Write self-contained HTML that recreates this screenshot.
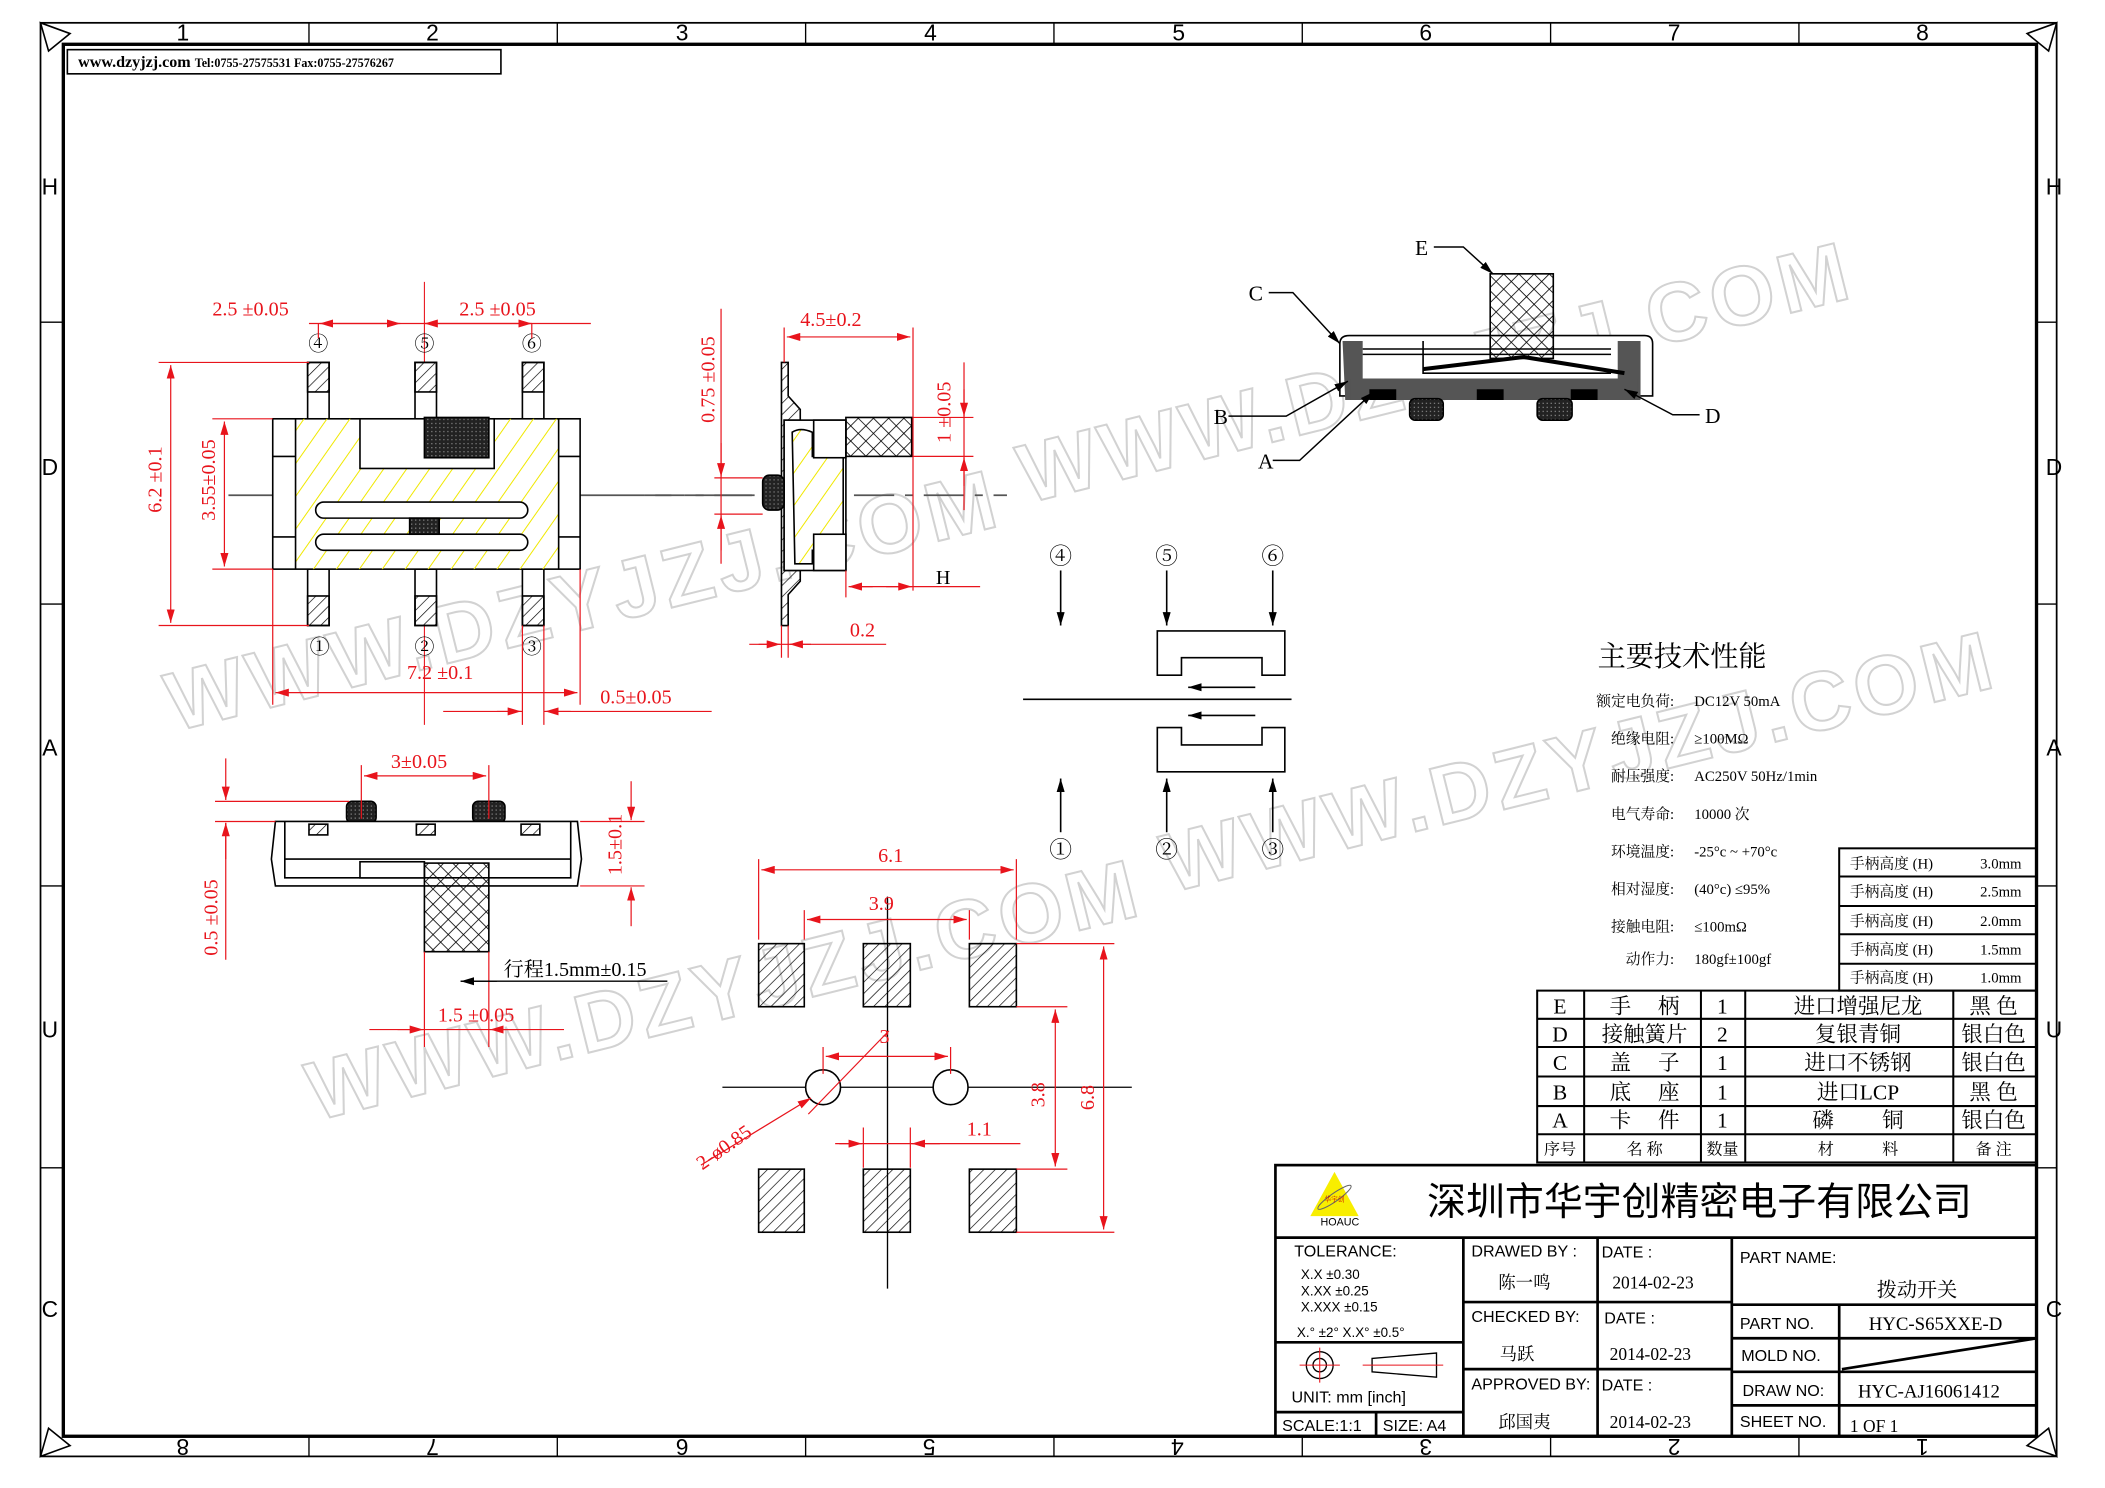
<!DOCTYPE html>
<html><head><meta charset="utf-8"><style>
html,body{margin:0;padding:0;background:#fff}
svg{display:block}
text{font-family:"Liberation Serif","Noto Serif CJK SC","Noto Sans CJK SC",serif}
.s{font-family:"Liberation Sans","Noto Sans CJK SC",sans-serif}
.r{fill:#e8141c}
</style></head><body>
<svg width="2105" height="1488" viewBox="0 0 1560 1103" xmlns="http://www.w3.org/2000/svg">
<defs>
<pattern id="yh" width="14" height="14" patternUnits="userSpaceOnUse" patternTransform="rotate(35)"><line x1="0" y1="0" x2="0" y2="14" stroke="#f0e800" stroke-width="1.5"/></pattern>
<pattern id="bh" width="6" height="6" patternUnits="userSpaceOnUse" patternTransform="rotate(45)"><line x1="0" y1="0" x2="0" y2="6" stroke="#000" stroke-width="1"/></pattern>
<pattern id="xh" width="8" height="8" patternUnits="userSpaceOnUse" patternTransform="rotate(45)"><line x1="0" y1="0" x2="0" y2="8" stroke="#000" stroke-width="1.2"/><line x1="0" y1="0" x2="8" y2="0" stroke="#000" stroke-width="1.2"/></pattern>
<pattern id="dk" width="3" height="3" patternUnits="userSpaceOnUse"><rect width="3" height="3" fill="#222"/><rect width="1" height="1" fill="#777"/></pattern>
<marker id="ar" viewBox="0 0 10 6" refX="10" refY="3" markerWidth="10" markerHeight="6" orient="auto-start-reverse" markerUnits="userSpaceOnUse"><path d="M0,0L10,3L0,6z" fill="#e8141c"/></marker>
<marker id="ak" viewBox="0 0 10 6" refX="10" refY="3" markerWidth="10" markerHeight="6" orient="auto-start-reverse" markerUnits="userSpaceOnUse"><path d="M0,0L10,3L0,6z" fill="#000"/></marker>
</defs>
<rect width="1560" height="1103" fill="#fff"/>
<g transform="scale(0.995)">
<!-- watermarks -->
<g fill="none" stroke="#d2d2d2" stroke-width="1.5" font-size="62" font-family="Liberation Sans,sans-serif" font-weight="bold" letter-spacing="4">
<text x="130" y="545" transform="rotate(-14 130 545)" class="s">WWW.DZYJZJ.COM</text>
<text x="235" y="835" transform="rotate(-14 235 835)" class="s">WWW.DZYJZJ.COM</text>
<text x="765" y="375" transform="rotate(-14 765 375)" class="s">WWW.DZYJZJ.COM</text>
<text x="872" y="665" transform="rotate(-14 872 665)" class="s">WWW.DZYJZJ.COM</text>
</g>
<!-- frame -->
<g stroke="#000" fill="none">
<rect x="30" y="17" width="1502" height="1068" stroke-width="1.3"/>
<rect x="47" y="33" width="1470" height="1037" stroke-width="2.5"/>
<path d="M230,17V33M415,17V33M600,17V33M785,17V33M970,17V33M1155,17V33M1340,17V33M230,1070V1085M415,1070V1085M600,1070V1085M785,1070V1085M970,1070V1085M1155,1070V1085M1340,1070V1085M30,240H47M30,450H47M30,660H47M30,870H47M1517,240H1532M1517,450H1532M1517,660H1532M1517,870H1532"/>
<path d="M30,17L52,25L36,38zM1532,17L1510,25L1526,38zM30,1085L52,1077L36,1064zM1532,1085L1510,1077L1526,1064z" stroke-width="1.2"/>
</g>
<g font-size="17" text-anchor="middle" class="s">
<text x="136" y="30" class="s">1</text><text x="322" y="30" class="s">2</text><text x="508" y="30" class="s">3</text><text x="693" y="30" class="s">4</text><text x="878" y="30" class="s">5</text><text x="1062" y="30" class="s">6</text><text x="1247" y="30" class="s">7</text><text x="1432" y="30" class="s">8</text>
<g transform="rotate(180 780 1078)"><text x="128" y="1084" class="s">1</text><text x="313" y="1084" class="s">2</text><text x="498" y="1084" class="s">3</text><text x="683" y="1084" class="s">4</text><text x="868" y="1084" class="s">5</text><text x="1052" y="1084" class="s">6</text><text x="1238" y="1084" class="s">7</text><text x="1424" y="1084" class="s">8</text></g>
<text x="37" y="145" class="s">H</text><text x="37" y="354" class="s">D</text><text x="37" y="563" class="s">A</text><text x="37" y="773" class="s">U</text><text x="37" y="981" class="s">C</text>
<text x="1530" y="145" class="s">H</text><text x="1530" y="354" class="s">D</text><text x="1530" y="563" class="s">A</text><text x="1530" y="773" class="s">U</text><text x="1530" y="981" class="s">C</text>
</g>
<rect x="50" y="37" width="323" height="18" fill="none" stroke="#000" stroke-width="1.2"/>
<text x="58" y="50" font-size="12" font-weight="bold">www.dzyjzj.com <tspan font-size="9">Tel:0755-27575531  Fax:0755-27576267</tspan></text>

<!-- TOP VIEW -->
<g stroke="#000" stroke-width="1.2">
<path d="M170,369H480M488,369H500M510,369H560" stroke="#555" stroke-width="1.3"/>
<line x1="316" y1="210" x2="316" y2="540" stroke="#e8141c" stroke-width="0.8"/>
<g fill="#fff"><rect x="229" y="270" width="16" height="42"/><rect x="309" y="270" width="16" height="42"/><rect x="389" y="270" width="16" height="42"/><rect x="229" y="424" width="16" height="42"/><rect x="309" y="424" width="16" height="42"/><rect x="389" y="424" width="16" height="42"/></g>
<g fill="url(#bh)"><rect x="229" y="270" width="16" height="22"/><rect x="309" y="270" width="16" height="22"/><rect x="389" y="270" width="16" height="22"/><rect x="229" y="444" width="16" height="22"/><rect x="309" y="444" width="16" height="22"/><rect x="389" y="444" width="16" height="22"/></g>
<rect x="203" y="312" width="229" height="112" fill="#fff"/>
<rect x="220" y="312" width="196" height="112" fill="url(#yh)" stroke="none"/>
<rect x="268" y="312" width="100" height="37" fill="#fff"/>
<rect x="316" y="311" width="48" height="30" fill="url(#dk)"/>
<rect x="235" y="374" width="158" height="12" rx="6" fill="#fff"/>
<rect x="235" y="398" width="158" height="12" rx="6" fill="#fff"/>
<rect x="305" y="386" width="22" height="12" fill="url(#dk)"/>
<path d="M220,312V424M416,312V424M203,340H220M203,400H220M416,340H432M416,400H432" fill="none"/>
</g>
<g font-size="15" text-anchor="middle" fill="#000"><text x="237" y="261">④</text><text x="316" y="261">⑤</text><text x="396" y="261">⑥</text><text x="238" y="487">①</text><text x="316" y="487">②</text><text x="396" y="487">③</text></g>
<g stroke="#e8141c" stroke-width="0.9" fill="none">
<path d="M230,241H440M237,241V252M396,241V252"/>
<line x1="298" y1="241" x2="238" y2="241" marker-end="url(#ar)" marker-start="url(#ar)"/>
<line x1="316" y1="241" x2="396" y2="241" marker-end="url(#ar)" marker-start="url(#ar)"/>
<path d="M118,270H230M118,466H230M158,312H203M158,424H203"/>
<line x1="127" y1="272" x2="127" y2="464" marker-end="url(#ar)" marker-start="url(#ar)"/>
<line x1="167" y1="314" x2="167" y2="422" marker-end="url(#ar)" marker-start="url(#ar)"/>
<path d="M203,424V525M432,424V525M389,466V540M405,466V540"/>
<line x1="205" y1="516" x2="430" y2="516" marker-end="url(#ar)" marker-start="url(#ar)"/>
<path d="M330,530H389M405,530H530"/>
<line x1="370" y1="530" x2="388" y2="530" marker-end="url(#ar)"/><line x1="425" y1="530" x2="406" y2="530" marker-end="url(#ar)"/>
</g>
<g class="r" font-size="15"><text x="158" y="235">2.5 ±0.05</text><text x="342" y="235">2.5 ±0.05</text><text x="303" y="506">7.2 ±0.1</text><text x="447" y="524">0.5±0.05</text>
<text transform="translate(120,382) rotate(-90)">6.2 ±0.1</text><text transform="translate(160,388) rotate(-90)">3.55±0.05</text></g>

<!-- SIDE VIEW -->
<g stroke="#000" stroke-width="1.2">
<path d="M480,369H750" stroke="#555" stroke-width="1.3" stroke-dasharray="30,8,6,8"/>
<path d="M582,270H587V295L596,305V313H584V425H596V433L587,443V466H582Z" fill="url(#bh)"/>
<rect x="584" y="313" width="46" height="112" fill="#fff"/>
<path d="M590,322Q596,318 605,322V340H628V410H605V420H592Z" fill="url(#yh)"/>
<rect x="606" y="313" width="24" height="28" fill="#fff"/>
<rect x="606" y="398" width="24" height="27" fill="#fff"/>
<rect x="630" y="311" width="49" height="29" fill="url(#xh)"/>
<rect x="568" y="354" width="16" height="26" rx="5" fill="url(#dk)"/>
</g>
<g stroke="#e8141c" stroke-width="0.9" fill="none">
<path d="M584,244V270M680,244V440"/>
<line x1="586" y1="251" x2="678" y2="251" marker-end="url(#ar)" marker-start="url(#ar)"/>
<path d="M537,230V420M532,356H568M532,383H568"/>
<line x1="537" y1="330" x2="537" y2="355" marker-end="url(#ar)"/><line x1="537" y1="410" x2="537" y2="384" marker-end="url(#ar)"/>
<path d="M680,311H725M680,340H725M718,270V380"/>
<line x1="718" y1="290" x2="718" y2="310" marker-end="url(#ar)"/><line x1="718" y1="362" x2="718" y2="341" marker-end="url(#ar)"/>
<path d="M630,425V445M633,437H730"/>
<line x1="650" y1="437" x2="632" y2="437" marker-end="url(#ar)"/><line x1="660" y1="437" x2="679" y2="437" marker-end="url(#ar)"/>
<path d="M582,466V490M587,466V490M558,480H660"/>
<line x1="565" y1="480" x2="581" y2="480" marker-end="url(#ar)"/><line x1="604" y1="480" x2="588" y2="480" marker-end="url(#ar)"/>
</g>
<g class="r" font-size="15"><text x="596" y="243">4.5±0.2</text><text x="633" y="474">0.2</text>
<text transform="translate(532,315) rotate(-90)">0.75 ±0.05</text><text transform="translate(708,330) rotate(-90)">1 ±0.05</text></g>
<text x="697" y="435" font-size="15">H</text>

<!-- BOTTOM-LEFT VIEW -->
<g stroke="#000" stroke-width="1.2">
<rect x="258" y="597" width="22" height="16" rx="4" fill="url(#dk)"/><rect x="352" y="597" width="24" height="16" rx="4" fill="url(#dk)"/>
<path d="M205,612H430L433,640L430,660H205L202,640Z" fill="#fff"/>
<path d="M212,612V654H425V612M212,640H425" fill="none"/>
<g fill="url(#bh)"><rect x="230" y="614" width="14" height="8"/><rect x="310" y="614" width="14" height="8"/><rect x="388" y="614" width="14" height="8"/></g>
<rect x="268" y="642" width="48" height="12" fill="#fff"/>
<rect x="316" y="643" width="48" height="66" fill="url(#xh)"/>
</g>
<g stroke="#e8141c" stroke-width="0.9" fill="none">
<path d="M269,570V610M364,570V610"/>
<line x1="271" y1="578" x2="362" y2="578" marker-end="url(#ar)" marker-start="url(#ar)"/>
<path d="M160,597H260M160,612H205M432,612H480M432,660H480"/>
<line x1="168" y1="565" x2="168" y2="596" marker-end="url(#ar)"/><line x1="168" y1="640" x2="168" y2="613" marker-end="url(#ar)"/><line x1="168" y1="613" x2="168" y2="715"/>
<line x1="470" y1="582" x2="470" y2="611" marker-end="url(#ar)"/><line x1="470" y1="690" x2="470" y2="661" marker-end="url(#ar)"/>
<path d="M316,709V780M364,709V780M275,767H420"/>
<line x1="296" y1="767" x2="315" y2="767" marker-end="url(#ar)"/><line x1="384" y1="767" x2="365" y2="767" marker-end="url(#ar)"/>
</g>
<line x1="343" y1="731" x2="497" y2="731" stroke="#000"/><line x1="370" y1="731" x2="343" y2="731" stroke="#000" marker-end="url(#ak)"/>
<text x="375" y="727" font-size="15">行程1.5mm±0.15</text>
<g class="r" font-size="15"><text x="291" y="572">3±0.05</text><text x="326" y="761">1.5 ±0.05</text>
<text transform="translate(162,712) rotate(-90)">0.5 ±0.05</text><text transform="translate(463,652) rotate(-90)">1.5±0.1</text></g>

<!-- FOOTPRINT -->
<g stroke="#000" stroke-width="1.2">
<path d="M538,810H600M626,810H695M721,810H843M661,668V960" stroke-width="1"/>
<g fill="url(#bh)"><rect x="565" y="703" width="34" height="47"/><rect x="643" y="703" width="35" height="47"/><rect x="722" y="703" width="35" height="47"/><rect x="565" y="871" width="34" height="47"/><rect x="643" y="871" width="35" height="47"/><rect x="722" y="871" width="35" height="47"/></g>
<circle cx="613" cy="810" r="13" fill="#fff"/><circle cx="708" cy="810" r="13" fill="#fff"/>
</g>
<g stroke="#e8141c" stroke-width="0.9" fill="none">
<path d="M565,640V700M757,640V700M599,678V700M722,678V700"/>
<line x1="567" y1="648" x2="755" y2="648" marker-end="url(#ar)" marker-start="url(#ar)"/>
<line x1="601" y1="685" x2="720" y2="685" marker-end="url(#ar)" marker-start="url(#ar)"/>
<path d="M757,703H830M757,918H830M757,750H795M757,871H795"/>
<line x1="822" y1="705" x2="822" y2="916" marker-end="url(#ar)" marker-start="url(#ar)"/>
<line x1="786" y1="752" x2="786" y2="869" marker-end="url(#ar)" marker-start="url(#ar)"/>
<path d="M613,780V800M708,780V800"/>
<line x1="615" y1="787" x2="706" y2="787" marker-end="url(#ar)" marker-start="url(#ar)"/>
<path d="M643,840V870M678,840V870M622,852H760"/>
<line x1="625" y1="852" x2="642" y2="852" marker-end="url(#ar)"/><line x1="700" y1="852" x2="679" y2="852" marker-end="url(#ar)"/>
<line x1="522" y1="868" x2="604" y2="818" marker-end="url(#ar)"/>
<line x1="602" y1="830" x2="662" y2="768" />
</g>
<g class="r" font-size="15"><text x="654" y="642">6.1</text><text x="647" y="678">3.9</text><text x="655" y="777">3</text><text x="720" y="846">1.1</text>
<text transform="translate(778,825) rotate(-90)">3.8</text><text transform="translate(815,827) rotate(-90)">6.8</text><text transform="translate(523,872) rotate(-35)">2-ø0.85</text></g>

<!-- SCHEMATIC -->
<g stroke="#000" stroke-width="1.2" fill="none">
<line x1="790" y1="425" x2="790" y2="466" marker-end="url(#ak)"/><line x1="869" y1="425" x2="869" y2="466" marker-end="url(#ak)"/><line x1="948" y1="425" x2="948" y2="466" marker-end="url(#ak)"/>
<line x1="790" y1="620" x2="790" y2="580" marker-end="url(#ak)"/><line x1="869" y1="620" x2="869" y2="580" marker-end="url(#ak)"/><line x1="948" y1="620" x2="948" y2="580" marker-end="url(#ak)"/>
<path d="M862,470H957V503H940V490H880V503H862Z"/>
<path d="M862,575H957V542H940V555H880V542H862Z"/>
<line x1="762" y1="521" x2="962" y2="521"/>
<line x1="935" y1="512" x2="885" y2="512" marker-end="url(#ak)"/><line x1="935" y1="533" x2="885" y2="533" marker-end="url(#ak)"/>
</g>
<g font-size="17" text-anchor="middle"><text x="790" y="420">④</text><text x="869" y="420">⑤</text><text x="948" y="420">⑥</text><text x="790" y="639">①</text><text x="869" y="639">②</text><text x="948" y="639">③</text></g>

<!-- 3D VIEW -->
<g stroke="#000" stroke-width="1.2">
<path d="M998,256Q998,250 1005,250H1225Q1231,250 1231,256V295H998Z" fill="#fff"/>
<path d="M1000,254H1015V286H1205V254H1222V298H1002Z" fill="#555" stroke="none"/>
<path d="M1015,260H1200M1015,264H1200M1060,254V278H1200" fill="none"/>
<path d="M1006,282H1220V298H1006Z" fill="#555" stroke="none"/>
<path d="M1020,290H1040V298H1020ZM1100,290H1120V298H1100ZM1170,290H1190V298H1170Z" fill="#000" stroke="none"/>
<rect x="1110" y="204" width="47" height="63" fill="url(#xh)"/>
<path d="M1060,275L1135,266L1210,278" fill="none" stroke-width="3"/>
<rect x="1050" y="297" width="25" height="16" rx="4" fill="url(#dk)"/><rect x="1145" y="297" width="26" height="16" rx="4" fill="url(#dk)"/>
</g>
<g stroke="#000" stroke-width="1.1" fill="none">
<path d="M945,218H963L998,256" marker-end="url(#ak)"/>
<path d="M1068,184H1090L1112,204" marker-end="url(#ak)"/>
<path d="M915,310H958L1004,284" marker-end="url(#ak)"/>
<path d="M948,343H968L1023,292" marker-end="url(#ak)"/>
<path d="M1266,309H1246L1210,290" marker-end="url(#ak)"/>
</g>
<g font-size="16"><text x="930" y="224">C</text><text x="1054" y="190">E</text><text x="904" y="316">B</text><text x="937" y="349">A</text><text x="1270" y="315">D</text></g>

<!-- SPECS -->
<text x="1190" y="496" font-size="21">主要技术性能</text>
<g font-size="11"><g text-anchor="end"><text x="1247" y="526">额定电负荷:</text><text x="1247" y="554">绝缘电阻:</text><text x="1247" y="582">耐压强度:</text><text x="1247" y="610">电气寿命:</text><text x="1247" y="638">环境温度:</text><text x="1247" y="666">相对湿度:</text><text x="1247" y="694">接触电阻:</text><text x="1247" y="718">动作力:</text></g>
<text x="1262" y="526">DC12V 50mA</text><text x="1262" y="554">≥100MΩ</text><text x="1262" y="582">AC250V  50Hz/1min</text><text x="1262" y="610">10000 次</text><text x="1262" y="638">-25°c ~ +70°c</text><text x="1262" y="666">(40°c) ≤95%</text><text x="1262" y="694">≤100mΩ</text><text x="1262" y="718">180gf±100gf</text></g>
<g stroke="#000" stroke-width="1.5" fill="none"><rect x="1370" y="632" width="147" height="106"/><path d="M1370,653H1517M1370,675H1517M1370,696H1517M1370,718H1517"/></g>
<g font-size="11"><text x="1378" y="647">手柄高度  (H)</text><text x="1475" y="647">3.0mm</text><text x="1378" y="668">手柄高度  (H)</text><text x="1475" y="668">2.5mm</text><text x="1378" y="690">手柄高度  (H)</text><text x="1475" y="690">2.0mm</text><text x="1378" y="711">手柄高度  (H)</text><text x="1475" y="711">1.5mm</text><text x="1378" y="732">手柄高度  (H)</text><text x="1475" y="732">1.0mm</text></g>

<!-- PARTS TABLE -->
<g stroke="#000" stroke-width="1.5" fill="none"><rect x="1145" y="738" width="372" height="128"/><path d="M1145,759H1517M1145,780H1517M1145,802H1517M1145,824H1517M1145,845H1517M1180,738V866M1267,738V866M1300,738V866M1455,738V866"/></g>
<g font-size="16" text-anchor="middle">
<text x="1162" y="755">E</text><text x="1225" y="755">手　 柄</text><text x="1283" y="755">1</text><text x="1384" y="755">进口增强尼龙</text><text x="1485" y="755">黑 色</text>
<text x="1162" y="776">D</text><text x="1225" y="776">接触簧片</text><text x="1283" y="776">2</text><text x="1384" y="776">复银青铜</text><text x="1485" y="776">银白色</text>
<text x="1162" y="797">C</text><text x="1225" y="797">盖　 子</text><text x="1283" y="797">1</text><text x="1384" y="797">进口不锈钢</text><text x="1485" y="797">银白色</text>
<text x="1162" y="819">B</text><text x="1225" y="819">底　 座</text><text x="1283" y="819">1</text><text x="1384" y="819">进口LCP</text><text x="1485" y="819">黑 色</text>
<text x="1162" y="840">A</text><text x="1225" y="840">卡　 件</text><text x="1283" y="840">1</text><text x="1384" y="840">磷　　 铜</text><text x="1485" y="840">银白色</text>
<g font-size="12"><text x="1162" y="860">序号</text><text x="1225" y="860">名 称</text><text x="1283" y="860">数量</text><text x="1384" y="860">材　　　料</text><text x="1485" y="860">备 注</text></g>
</g>

<!-- TITLE BLOCK -->
<g stroke="#000" stroke-width="2" fill="none">
<rect x="950" y="868" width="567" height="202"/>
<path d="M950,922H1517M1090,922V1070M1190,922V1070M1290,922V1070M1090,970H1290M1090,1020H1290M1290,972H1517M1290,997H1517M1290,1022H1517M1290,1047H1517M1370,972V1070M950,1000H1090M950,1052H1090M1025,1052V1070M1372,1020L1517,997"/>
</g>
<path d="M994,873L1012,906H976Z" fill="#f8ee00"/>
<ellipse cx="994" cy="892" rx="15" ry="3" transform="rotate(-35 994 892)" fill="none" stroke="#666" stroke-width="0.8"/>
<text x="994" y="895" font-size="5" text-anchor="middle" fill="#c00">华宇创</text>
<text x="998" y="913" font-size="8" text-anchor="middle" class="s">HOAUC</text>
<text x="1063" y="905" font-size="29" class="s" style="font-family:'Noto Sans CJK SC',sans-serif">深圳市华宇创精密电子有限公司</text>
<g class="s" font-size="11">
<text x="964" y="936" class="s" font-size="12">TOLERANCE:</text>
<text x="969" y="953" class="s" font-size="10">X.X      ±0.30</text><text x="969" y="965" class="s" font-size="10">X.XX    ±0.25</text><text x="969" y="977" class="s" font-size="10">X.XXX  ±0.15</text>
<text x="966" y="996" class="s" font-size="10">X.° ±2°        X.X° ±0.5°</text>
<text x="962" y="1045" class="s" font-size="12">UNIT:  mm  [inch]</text>
<text x="955" y="1066" class="s" font-size="12">SCALE:1:1</text><text x="1030" y="1066" class="s" font-size="12">SIZE:  A4</text>
<text x="1096" y="936" class="s" font-size="12">DRAWED  BY :</text><text x="1096" y="985" class="s" font-size="12">CHECKED  BY:</text><text x="1096" y="1035" class="s" font-size="12">APPROVED  BY:</text>
<text x="1193" y="937" class="s" font-size="12">DATE :</text><text x="1195" y="986" class="s" font-size="12">DATE :</text><text x="1193" y="1036" class="s" font-size="12">DATE :</text>
<text x="1296" y="941" class="s" font-size="12">PART  NAME:</text><text x="1296" y="990" class="s" font-size="12">PART  NO.</text><text x="1297" y="1014" class="s" font-size="12">MOLD  NO.</text><text x="1298" y="1040" class="s" font-size="12">DRAW  NO:</text><text x="1296" y="1063" class="s" font-size="12">SHEET  NO.</text>
</g>
<g font-size="13"><text x="1116" y="960">陈一鸣</text><text x="1117" y="1013">马跃</text><text x="1116" y="1064">邱国夷</text>
<text x="1201" y="960">2014-02-23</text><text x="1199" y="1013">2014-02-23</text><text x="1199" y="1064">2014-02-23</text>
<text x="1398" y="966" font-size="15">拨动开关</text><text x="1392" y="991" font-size="14">HYC-S65XXE-D</text><text x="1384" y="1041" font-size="14">HYC-AJ16061412</text><text x="1378" y="1067">1 OF 1</text></g>
<g stroke="#000" fill="none"><circle cx="983" cy="1017" r="10"/><circle cx="983" cy="1017" r="5"/><path d="M1022,1012L1070,1008V1026L1022,1022Z"/></g>
<path d="M968,1017H998M983,1004V1030M1015,1017H1075" stroke="#e8141c" stroke-width="0.8"/>
</g>
</svg>
</body></html>
